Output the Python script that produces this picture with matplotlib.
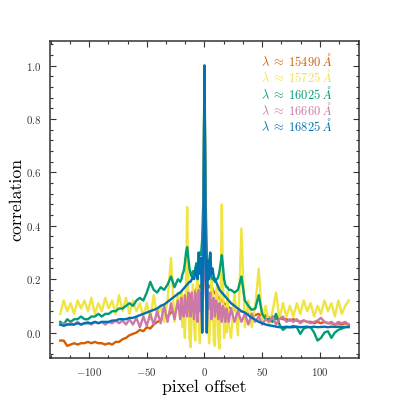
import numpy as np
import matplotlib
matplotlib.use("Agg")
import matplotlib.pyplot as plt
from matplotlib.ticker import MultipleLocator, AutoMinorLocator

plt.rcParams['font.family'] = 'serif'
plt.rcParams['font.serif'] = ['cmr10']
plt.rcParams['mathtext.fontset'] = 'cm'
plt.rcParams['axes.formatter.use_mathtext'] = True

# pixel offsets: coarse outer sampling, fine centre sampling
offsets = np.concatenate([np.arange(-125, -22, 3), np.arange(-21, 22, 1), np.arange(23, 126, 3)])

labels = [r'$\lambda \;\approx\; 15490\ \AA$', r'$\lambda \;\approx\; 15725\ \AA$',
          r'$\lambda \;\approx\; 16025\ \AA$', r'$\lambda \;\approx\; 16660\ \AA$',
          r'$\lambda \;\approx\; 16825\ \AA$']
colors = ['#D55E00', '#F0E442', '#009E73', '#CC79A7', '#0072B2']

orange = [
    -0.03, -0.03, -0.05, -0.045, -0.04, -0.045, -0.04, -0.04, -0.035, -0.04, -0.035, -0.04,
    -0.04, -0.045, -0.04, -0.045, -0.035, -0.035, -0.025, -0.02, -0.01, -0.005, 0.0, 0.01,
    0.005, 0.02, 0.015, 0.03, 0.04, 0.045, 0.06, 0.06, 0.075, 0.085, 0.095,
    0.1, 0.1, 0.11, 0.1, 0.12, 0.115, 0.13, 0.12, 0.14, 0.13, 0.145, 0.14, 0.155, 0.15, 0.165,
    0.16, 0.175, 0.17, 0.18, 0.15, 0.3, 1.0, 0.3, 0.15, 0.18, 0.17, 0.175, 0.16, 0.165, 0.15,
    0.15, 0.14, 0.14, 0.13, 0.13, 0.12, 0.12, 0.115, 0.11, 0.105, 0.1, 0.1, 0.095,
    0.09, 0.085, 0.08, 0.08, 0.075, 0.07, 0.07, 0.065, 0.07, 0.06, 0.065, 0.055, 0.06, 0.05,
    0.055, 0.05, 0.05, 0.045, 0.05, 0.045, 0.04, 0.045, 0.04, 0.04, 0.035, 0.04, 0.035, 0.04,
    0.035, 0.035, 0.03, 0.035, 0.03, 0.035, 0.03]

yellow = [
    0.07, 0.12, 0.08, 0.11, 0.07, 0.12, 0.09, 0.12, 0.08, 0.13, 0.07, 0.11, 0.08, 0.13, 0.09,
    0.12, 0.07, 0.14, 0.08, 0.13, 0.07, 0.12, 0.08, 0.11, 0.06, 0.11, 0.05, 0.14, 0.06, 0.1,
    0.04, 0.12, 0.28, 0.04, 0.15,
    0.05, 0.15, 0.02, 0.12, -0.02, 0.2, 0.47, 0.15, -0.02, -0.055, 0.1, 0.18, 0.02, -0.03,
    0.15, 0.22, 0.05, -0.04, 0.1, 0.2, 0.4, 1.0, 0.4, 0.2, 0.08, -0.04, 0.05, 0.2, 0.15,
    -0.03, -0.05, 0.15, 0.18, -0.02, -0.06, 0.15, 0.48, 0.2, -0.02, 0.1, 0.0, 0.15, 0.03,
    -0.02, 0.15, -0.01, 0.39, 0.02, 0.12, 0.02, 0.1, 0.24, 0.04, 0.1, 0.03, 0.08, 0.15, 0.05,
    0.11, 0.06, 0.1, 0.06, 0.11, 0.07, 0.12, 0.08, 0.11, 0.06, 0.1, 0.07, 0.12, 0.08, 0.11,
    0.06, 0.12, 0.07, 0.1, 0.12]

green = [
    0.04, 0.03, 0.05, 0.04, 0.05, 0.05, 0.06, 0.05, 0.05, 0.06, 0.06, 0.07, 0.06, 0.07, 0.07,
    0.08, 0.08, 0.09, 0.09, 0.1, 0.11, 0.1, 0.12, 0.13, 0.12, 0.15, 0.19, 0.16, 0.15, 0.17,
    0.16, 0.18, 0.21, 0.17, 0.2,
    0.19, 0.2, 0.22, 0.23, 0.26, 0.3, 0.32, 0.28, 0.24, 0.22, 0.21, 0.23, 0.22, 0.24, 0.26,
    0.25, 0.28, 0.3, 0.29, 0.35, 0.5, 1.0, 0.5, 0.3, 0.26, 0.25, 0.22, 0.21, 0.2, 0.2, 0.19,
    0.2, 0.2, 0.21, 0.23, 0.26, 0.29, 0.25, 0.2, 0.18, 0.17, 0.17, 0.16,
    0.16, 0.15, 0.16, 0.21, 0.12, 0.1, 0.085, 0.09, 0.14, 0.07, 0.05, 0.05, 0.04, 0.07, 0.03,
    0.01, 0.02, 0.02, 0.025, 0.02, -0.005, 0.015, 0.02, 0.02, 0.0, -0.03, -0.02, 0.0, 0.005,
    -0.02, 0.0, 0.01, 0.015, 0.02, 0.02]

pink = [
    0.03, 0.035, 0.03, 0.035, 0.03, 0.04, 0.03, 0.035, 0.04, 0.03, 0.04, 0.035, 0.04, 0.03,
    0.04, 0.035, 0.045, 0.035, 0.045, 0.03, 0.05, 0.03, 0.055, 0.02, 0.06, 0.025, 0.07, 0.03,
    0.08, 0.035, 0.1, 0.04, 0.11, 0.05, 0.12,
    0.05, 0.13, 0.07, 0.06, 0.14, 0.08, 0.06, 0.15, 0.1, 0.06, 0.15, 0.09, 0.05, 0.15, 0.1,
    0.04, 0.16, 0.08, 0.15, 0.0, 0.2, 1.0, 0.2, 0.0, 0.15, 0.09, 0.15, 0.05, 0.12, 0.13, 0.06,
    0.12, 0.1, 0.05, 0.11, 0.09, 0.04, 0.1, 0.08, 0.04, 0.09, 0.07, 0.04,
    0.09, 0.04, 0.08, 0.04, 0.07, 0.03, 0.07, 0.04, 0.06, 0.03, 0.05, 0.04, 0.06, 0.03, 0.05,
    0.06, 0.04, 0.05, 0.04, 0.05, 0.035, 0.045, 0.04, 0.035, 0.04, 0.045, 0.055, 0.04, 0.035,
    0.04, 0.03, 0.04, 0.035, 0.04, 0.03]

blue = [
    0.03, 0.025, 0.03, 0.03, 0.03, 0.035, 0.03, 0.035, 0.035, 0.035, 0.04, 0.035, 0.04, 0.04,
    0.04, 0.045, 0.045, 0.05, 0.05, 0.05, 0.055, 0.055, 0.06, 0.065, 0.07, 0.075, 0.08, 0.085,
    0.09, 0.1, 0.105, 0.115, 0.125, 0.135, 0.145,
    0.15, 0.155, 0.16, 0.165, 0.17, 0.175, 0.18, 0.185, 0.19, 0.19, 0.2, 0.21, 0.2, 0.22, 0.25,
    0.2, 0.3, 0.22, 0.28, 0.0, 0.3, 1.0, 0.3, 0.0, 0.27, 0.2, 0.3, 0.22, 0.24, 0.21, 0.2, 0.19,
    0.18, 0.17, 0.16, 0.155, 0.15, 0.145, 0.14, 0.135, 0.13, 0.125, 0.12,
    0.11, 0.1, 0.09, 0.08, 0.075, 0.065, 0.055, 0.048, 0.04, 0.035, 0.03, 0.027, 0.025, 0.022,
    0.02, 0.02, 0.022, 0.02, 0.02, 0.022, 0.02, 0.021, 0.022, 0.02, 0.022, 0.02, 0.021, 0.022,
    0.02, 0.022, 0.021, 0.022, 0.02, 0.021, 0.022]

series = [orange, yellow, green, pink, blue]

fig = plt.figure(figsize=(3.99, 3.99), dpi=100)
ax = fig.add_axes([0.125, 0.103, 0.775, 0.794])

for vals, c, lab in zip(series, colors, labels):
    ax.plot(offsets, vals, color=c, lw=1.7, label=lab)

ax.set_xlim(-134, 134)
ax.set_ylim(-0.095, 1.092)
ax.xaxis.set_major_locator(MultipleLocator(50))
ax.xaxis.set_minor_locator(AutoMinorLocator(3))
ax.yaxis.set_major_locator(MultipleLocator(0.2))
ax.yaxis.set_minor_locator(AutoMinorLocator(5))
ax.tick_params(which='both', direction='in', top=True, right=True, labelsize=7.8,
               color='#333333', width=0.8, labelcolor='#333333')
ax.tick_params(which='major', length=4.5)
ax.tick_params(which='minor', length=2.2)
ax.tick_params(axis='y', pad=6)
ax.tick_params(axis='x', pad=6)
for sp in ax.spines.values():
    sp.set_color('#333333')
    sp.set_linewidth(1.1)

ax.set_xlabel('pixel offset', fontsize=12.8, labelpad=1)
ax.set_ylabel('correlation', fontsize=12.8, labelpad=1.5)

leg = ax.legend(loc='upper right', bbox_to_anchor=(0.915, 0.965), frameon=False,
                handlelength=0, handletextpad=0, fontsize=9, labelspacing=-0.06,
                borderaxespad=0, borderpad=0)
for h in leg.legend_handles:
    h.set_visible(False)
for t, c in zip(leg.get_texts(), colors):
    t.set_color(c)

fig.savefig('out.png', dpi=100)
